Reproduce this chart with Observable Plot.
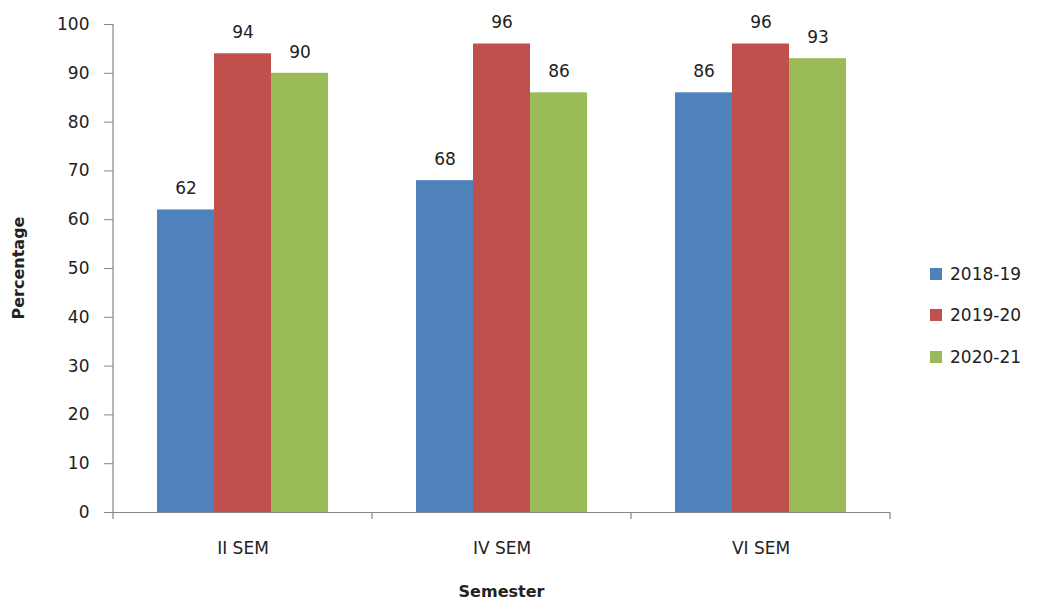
<!DOCTYPE html>
<html><head><meta charset="utf-8">
<script src="https://cdn.jsdelivr.net/npm/d3@7"></script>
<script src="https://cdn.jsdelivr.net/npm/@observablehq/plot@0.6"></script>
<style>
body{margin:0;background:#fff;font-family:"DejaVu Sans",sans-serif;}
#wrap{position:relative;width:1037px;height:602px;overflow:hidden;}
#chart{position:absolute;left:0;top:0;}
#legend{position:absolute;left:930px;top:253px;font-size:17px;color:#222;}
.item{display:flex;align-items:center;height:41.5px;}
.sw{width:12px;height:12px;margin-right:8px;}
</style></head><body>
<div id="wrap"><div id="chart"></div><div id="legend"></div></div>
<script>
const semesters = ["II SEM", "IV SEM", "VI SEM"];
const years = ["2018-19", "2019-20", "2020-21"];
const v2018_19 = [62, 68, 86];
const v2019_20 = [94, 96, 96];
const v2020_21 = [90, 86, 93];
const colors = ["#4F81BD", "#C0504D", "#9BBB59"];
const yTicks = [0, 10, 20, 30, 40, 50, 60, 70, 80, 90, 100];
const xTitle = "Semester";
const yTitle = "Percentage";

const series = [v2018_19, v2019_20, v2020_21];
const data = [];
semesters.forEach((s, i) => years.forEach((yr, j) => data.push({sem: s, year: yr, value: series[j][i]})));

const axisColor = "#868686";
const plot = Plot.plot({
  width: 910, height: 602,
  marginLeft: 113, marginRight: 20, marginTop: 24, marginBottom: 90,
  style: {fontFamily: "DejaVu Sans", fontSize: "17px", color: "#222", background: "#fff"},
  fx: {domain: semesters, padding: 0, label: null, axis: null},
  x: {domain: years, paddingInner: 0, paddingOuter: 0.75, axis: null},
  y: {domain: [0, 100], axis: null},
  color: {domain: years, range: colors},
  marks: [
    Plot.axisY({ticks: yTicks, tickSize: 9, tickPadding: 15, label: null, stroke: axisColor, fill: "#222", fontSize: 17}),
    Plot.axisFx({anchor: "bottom", tickSize: 0, tickPadding: 29, label: null, fill: "#222", fontSize: 17}),
    Plot.barY(data, {fx: "sem", x: "year", y: "value", fill: "year"}),
    Plot.text(data, {fx: "sem", x: "year", y: "value", text: d => String(d.value), dy: -21, fill: "#222", fontSize: 17}),
    Plot.ruleY([0], {stroke: axisColor, strokeWidth: 1.2})
  ]
});
document.getElementById("chart").appendChild(plot);

const svg = d3.select(plot);
const ys = plot.scale("y"), fxs = plot.scale("fx");
const y0 = ys.apply(0), yTop = ys.apply(100);
const left = fxs.apply(semesters[0]);
const right = fxs.apply(semesters[semesters.length - 1]) + fxs.bandwidth;
const g = svg.append("g");
g.append("line").attr("x1", left).attr("x2", left).attr("y1", yTop).attr("y2", y0)
  .attr("stroke", axisColor).attr("stroke-width", 1.2);
const bounds = semesters.map(s => fxs.apply(s)).concat([right]);
bounds.forEach(b => g.append("line").attr("x1", b).attr("x2", b).attr("y1", y0).attr("y2", y0 + 7)
  .attr("stroke", axisColor).attr("stroke-width", 1.2));
g.append("text").attr("x", (left + right) / 2).attr("y", 597).attr("text-anchor", "middle")
  .attr("font-weight", "bold").attr("font-size", 16).attr("fill", "#222").text(xTitle);
g.append("text").attr("transform", `translate(24,${(yTop + y0) / 2}) rotate(-90)`).attr("text-anchor", "middle")
  .attr("font-weight", "bold").attr("font-size", 16).attr("fill", "#222").text(yTitle);

const legend = d3.select("#legend");
years.forEach((yr, j) => {
  const it = legend.append("div").attr("class", "item");
  it.append("div").attr("class", "sw").style("background", colors[j]);
  it.append("span").text(yr);
});
</script>
</body></html>
